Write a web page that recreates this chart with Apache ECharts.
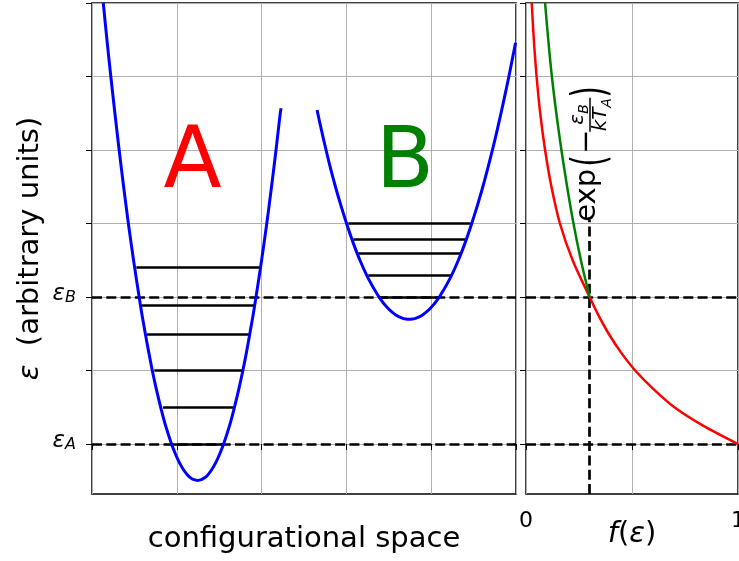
<!DOCTYPE html>
<html><head><meta charset="utf-8">
<script src="https://cdn.jsdelivr.net/npm/echarts@6/dist/echarts.min.js"></script>
<style>html,body{margin:0;padding:0;background:#fff;} #c{width:739px;height:561px;}</style>
</head><body><div id="c"></div>
<script>
// ---- data ----
// potential energy curve, well A: [configuration x, energy]
const wellA = [[0.133,6.0],[0.176,5.5],[0.222,5.0],[0.270,4.5],[0.320,4.0],[0.373,3.5],[0.429,3.0],[0.490,2.5],[0.556,2.0],[0.591,1.75],[0.629,1.5],[0.669,1.25],[0.711,1.0],[0.758,0.75],[0.810,0.5],[0.868,0.25],[0.938,0.0],[0.989,-0.15],[1.029,-0.25],[1.079,-0.35],[1.126,-0.42],[1.163,-0.46],[1.201,-0.485],[1.245,-0.495],[1.289,-0.485],[1.327,-0.46],[1.365,-0.42],[1.411,-0.35],[1.461,-0.25],[1.501,-0.15],[1.552,0.0],[1.622,0.25],[1.680,0.5],[1.732,0.75],[1.779,1.0],[1.822,1.25],[1.861,1.5],[1.899,1.75],[1.934,2.0],[2.000,2.5],[2.061,3.0],[2.117,3.5],[2.170,4.0],[2.220,4.5],[2.230,4.567]];
// potential energy curve, well B
const wellB = [[2.655,4.544],[2.662,4.5],[2.710,4.25],[2.760,4.0],[2.813,3.75],[2.871,3.5],[2.934,3.25],[3.002,3.0],[3.076,2.75],[3.160,2.5],[3.259,2.25],[3.384,2.0],[3.449,1.9],[3.487,1.85],[3.532,1.8],[3.578,1.76],[3.623,1.73],[3.666,1.71],[3.705,1.70],[3.74,1.697],[3.775,1.70],[3.814,1.71],[3.858,1.73],[3.902,1.76],[3.948,1.8],[3.993,1.85],[4.031,1.9],[4.096,2.0],[4.221,2.25],[4.320,2.5],[4.404,2.75],[4.478,3.0],[4.546,3.25],[4.609,3.5],[4.667,3.75],[4.722,4.0],[4.774,4.25],[4.823,4.5],[4.870,4.75],[4.916,5.0],[4.959,5.25],[4.995,5.46]];
// energy levels: [xStart, xEnd, energy]
const levelsA = [[0.943,1.553,0.0],[0.837,1.678,0.5],[0.735,1.769,1.0],[0.649,1.855,1.49],[0.59,1.914,1.89],[0.523,1.977,2.4]];
const levelsB = [[3.396,4.092,2.0],[3.258,4.242,2.29],[3.14,4.36,2.6],[3.082,4.41,2.79],[3.023,4.466,3.0]];
// occupation f(eps): [f, energy]
const fRed = [[0.027,6.0],[0.037,5.5],[0.05,5.0],[0.067,4.5],[0.09,4.0],[0.12,3.5],[0.16,3.0],[0.22,2.5],[0.3,2.0],[0.342,1.75],[0.39,1.5],[0.447,1.25],[0.515,1.0],[0.6,0.75],[0.7,0.5],[0.835,0.25],[1.0,0.0]];
const fGreen = [[0.09,6.0],[0.105,5.5],[0.122,5.0],[0.143,4.5],[0.167,4.0],[0.194,3.5],[0.224,3.0],[0.259,2.5],[0.3,2.0]];
const epsA = 0, epsB = 2;
const fCross = 0.3, crossTop = 3.05;
const yMin = -0.68, yMax = 6;
const yTicks = [0,1,2,3,4,5,6];
const labelA = {text:'A', pos:[1.185, 3.80]};
const labelB = {text:'B', pos:[3.69, 3.80]};

// ---- chart ----
const font = 'DejaVu Sans';
const chart = echarts.init(document.getElementById('c'), null, {renderer:'canvas'});
const tick = {show:true, inside:false, length:6, lineStyle:{color:'#000', width:1}};
const gline = {show:true, lineStyle:{color:'#b0b0b0', width:1}};
const dash = [10,4.3];
function segs(levels){ return levels.map(l => ({coords:[[l[0],l[2]],[l[1],l[2]]]})); }

const subRich = {
  e:{fontFamily:font, fontSize:23, fontStyle:'italic', color:'#000', lineHeight:23, verticalAlign:'top', padding:[0,0,4,0]},
  s:{fontFamily:font, fontSize:16, fontStyle:'italic', color:'#000', lineHeight:16, verticalAlign:'bottom'}
};

const option = {
  animation:false,
  backgroundColor:'#fff',
  grid:[
    {left:92, top:3, width:424, height:491, show:true, borderColor:'#000', borderWidth:1.5, backgroundColor:'transparent', outerBoundsMode:'none', containLabel:false},
    {left:526, top:3, width:212, height:491, show:true, borderColor:'#000', borderWidth:1.5, backgroundColor:'transparent', outerBoundsMode:'none', containLabel:false}
  ],
  xAxis:[
    {gridIndex:0, type:'value', min:0, max:5, interval:1, axisLine:{show:false}, axisTick:tick,
     axisLabel:{show:false}, splitLine:gline,
     name:'configurational space', nameLocation:'middle', nameGap:31, nameMoveOverlap:false,
     nameTextStyle:{fontFamily:font, fontSize:29, color:'#000'}},
    {gridIndex:1, type:'value', min:0, max:1, interval:0.5, axisLine:{show:false}, axisTick:tick,
     axisLabel:{show:true, margin:16, fontFamily:font, fontSize:22, color:'#000',
       formatter: v => (v===0||v===1) ? String(v) : ''},
     splitLine:gline,
     name:'{f|f}{n|(}{f|ε}{n|)}', nameLocation:'middle', nameGap:26, nameMoveOverlap:false,
     nameTextStyle:{rich:{
       f:{fontFamily:font, fontSize:29, fontStyle:'italic', color:'#000'},
       n:{fontFamily:font, fontSize:29, color:'#000'}}}}
  ],
  yAxis:[
    {gridIndex:0, type:'value', min:yMin, max:yMax, axisLine:{show:false},
     axisTick:Object.assign({customValues:yTicks}, tick),
     axisLabel:{show:true, customValues:[epsA, epsB], margin:16, padding:[0,0,6,0],
       formatter: v => v===epsA ? '{e|ε}{s|A}' : '{e|ε}{s|B}', rich:subRich},
     splitLine:gline,
     name:'{e|ε}{t|  (arbitrary units)}', nameLocation:'middle', nameGap:47, nameRotate:90, nameMoveOverlap:false,
     nameTextStyle:{rich:{
       e:{fontFamily:font, fontSize:29, fontStyle:'italic', color:'#000'},
       t:{fontFamily:font, fontSize:29, color:'#000'}}}},
    {gridIndex:1, type:'value', min:yMin, max:yMax, axisLine:{show:false},
     axisTick:Object.assign({customValues:yTicks}, tick),
     axisLabel:{show:false}, splitLine:gline}
  ],
  series:[
    {type:'lines', coordinateSystem:'cartesian2d', xAxisIndex:0, yAxisIndex:0, z:3, silent:true,
     lineStyle:{color:'#000', width:2.7, type:dash, opacity:1},
     data:[{coords:[[0,epsA],[5,epsA]]},{coords:[[0,epsB],[5,epsB]]}]},
    {type:'lines', coordinateSystem:'cartesian2d', xAxisIndex:1, yAxisIndex:1, z:3, silent:true,
     lineStyle:{color:'#000', width:2.7, type:dash, opacity:1},
     data:[{coords:[[0,epsA],[1,epsA]]},{coords:[[0,epsB],[1,epsB]]},{coords:[[fCross,yMin],[fCross,crossTop]]}]},
    {type:'lines', coordinateSystem:'cartesian2d', xAxisIndex:0, yAxisIndex:0, z:4, silent:true,
     lineStyle:{color:'#000', width:2.7, opacity:1},
     data:segs(levelsA).concat(segs(levelsB))},
    {type:'line', xAxisIndex:0, yAxisIndex:0, data:wellA, smooth:0.3, showSymbol:false, z:5,
     lineStyle:{color:'#0000ff', width:3, join:'round'}},
    {type:'line', xAxisIndex:0, yAxisIndex:0, data:wellB, smooth:0.3, showSymbol:false, z:5,
     lineStyle:{color:'#0000ff', width:3, join:'round'}},
    {type:'line', xAxisIndex:1, yAxisIndex:1, data:fRed, smooth:0.3, showSymbol:false, z:5,
     lineStyle:{color:'#ff0000', width:2.5, join:'round'}},
    {type:'line', xAxisIndex:1, yAxisIndex:1, data:fGreen, smooth:0.3, showSymbol:false, z:6,
     lineStyle:{color:'#008000', width:2.5, join:'round'}},
    {type:'scatter', xAxisIndex:0, yAxisIndex:0, symbolSize:0, silent:true, z:7,
     itemStyle:{opacity:1},
     data:[{value:labelA.pos, name:labelA.text, label:{color:'#ff0000'}},
           {value:labelB.pos, name:labelB.text, label:{color:'#008000'}}],
     label:{show:true, position:'inside', opacity:1, formatter:p => p.name, fontFamily:font, fontSize:85}}
  ]
};
chart.setOption(option);

// rotated annotation exp(-eps_B / kT_A) above the vertical dashed line
const p = chart.convertToPixel({gridIndex:1}, [fCross, crossTop]);
const T = (text, x, y, size, italic, extra) => Object.assign({type:'text', x:x, y:y,
  style:{text:text, fontFamily:font, fontSize:size, fontStyle:italic?'italic':'normal', fill:'#000', align:'left', verticalAlign:'middle'}}, extra||{});
chart.setOption({graphic:[{
  type:'group', x:p[0]+7.4, y:p[1]+2, rotation:Math.PI/2, silent:true,
  children:[
    T('exp', 0, -10, 29, false),
    T('(', 55, -5, 46, false, {scaleX:0.65}),
    T('\u2212', 68, -10, 29, false),
    T('ε', 97, -19, 20, true),
    T('B', 108, -13, 14, true),
    {type:'line', shape:{x1:90, y1:-7, x2:124, y2:-7}, style:{stroke:'#000', lineWidth:1.5}},
    T('kT', 90.5, 4, 20, true),
    T('A', 114, 10, 14, true),
    T(')', 124, -5, 46, false, {scaleX:0.65})
  ]
}]});
</script></body></html>
